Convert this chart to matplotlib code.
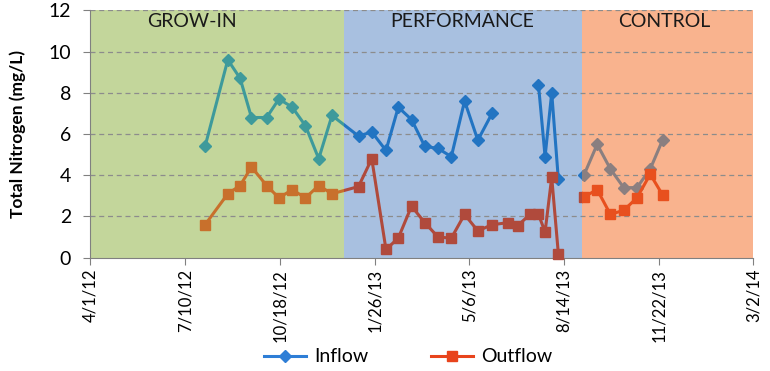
import numpy as np
import pandas as pd
import matplotlib
matplotlib.use('Agg')
import matplotlib.pyplot as plt
import matplotlib.dates as mdates
from matplotlib.lines import Line2D
from matplotlib.patches import Rectangle

plt.rcParams['font.family'] = ['Lato', 'DejaVu Sans']

# sampling dates and total nitrogen (mg/L); nan = no sample / line break
dates = ['2012-07-31', '2012-08-24', '2012-09-06', '2012-09-18', '2012-10-04',
         '2012-10-17', '2012-10-31', '2012-11-14', '2012-11-28', '2012-12-12',
         '2013-01-09', '2013-01-23', '2013-02-07', '2013-02-20', '2013-03-06',
         '2013-03-20', '2013-04-03', '2013-04-17', '2013-05-01', '2013-05-15',
         '2013-05-30', '2013-06-16', '2013-06-26', '2013-07-09', '2013-07-18',
         '2013-07-25', '2013-08-01', '2013-08-08', '2013-08-21', '2013-09-04',
         '2013-09-18', '2013-10-02', '2013-10-16', '2013-10-30', '2013-11-13',
         '2013-11-26']
nan = np.nan
inflow = [5.4, 9.6, 8.7, 6.8, 6.8, 7.7, 7.3, 6.4, 4.8, 6.9,
          5.9, 6.1, 5.2, 7.3, 6.7, 5.4, 5.3, 4.9, 7.6, 5.7,
          7.0, nan, nan, nan, 8.4, 4.9, 8.0, 3.8, nan, 4.0,
          5.5, 4.3, 3.4, 3.4, 4.3, 5.7]
outflow = [1.6, 3.1, 3.5, 4.4, 3.5, 2.9, 3.3, 2.9, 3.5, 3.1,
           3.45, 4.8, 0.4, 0.95, 2.5, 1.7, 1.0, 0.95, 2.1, 1.3,
           1.6, 1.7, 1.55, 2.1, 2.1, 1.25, 3.9, 0.2, nan, 2.95,
           3.3, 2.1, 2.3, 2.9, 4.05, 3.05]

phase_names = ['GROW-IN', 'PERFORMANCE', 'CONTROL']
phase_starts = ['2012-04-01', '2012-12-25', '2013-09-02']
phase_ends = ['2012-12-25', '2013-09-02', '2014-03-02']

tick_labels = ['4/1/12', '7/10/12', '10/18/12', '1/26/13', '5/6/13',
               '8/14/13', '11/22/13', '3/2/14']

# colours per phase (background, inflow line, outflow line)
phase_bg = ['#C3D69B', '#A8C0E0', '#F9B38E']
inflow_cols = ['#3E9A9B', '#2274C2', '#8A7F80']
outflow_cols = ['#C8702C', '#B04A3C', '#E8501E']
label_x = [0.153, 0.56, 0.866]

x = pd.to_datetime(dates)
ticks = pd.to_datetime(tick_labels, format='%m/%d/%y')

fig = plt.figure(figsize=(7.7, 3.71), dpi=100)
ax = fig.add_axes([0.1175, 0.3054, 0.861, 0.6668])

for i, name in enumerate(phase_names):
    s, e = pd.Timestamp(phase_starts[i]), pd.Timestamp(phase_ends[i])
    ax.axvspan(s, e, color=phase_bg[i], zorder=0, lw=0)
    x0, x1 = mdates.date2num(s), mdates.date2num(e)
    # same series drawn once per phase, each copy clipped to its phase band
    l1, = ax.plot(x, inflow, color=inflow_cols[i], lw=2.2, marker='D', ms=6.5, zorder=3)
    l2, = ax.plot(x, outflow, color=outflow_cols[i], lw=2.2, marker='s', ms=7, zorder=3)
    for ln in (l1, l2):
        ln.set_clip_path(Rectangle((x0, -0.1), x1 - x0, 1.2,
                                   transform=ax.get_xaxis_transform()))
    ax.text(label_x[i], 0.953, name, transform=ax.transAxes, ha='center',
            va='center', fontsize=14, color='#1a1a1a', zorder=4)

ax.set_ylim(0, 12)
ax.set_yticks(np.arange(0, 13, 2))
for yv in np.arange(2, 13, 2):
    ax.axhline(yv, color='#8c8c8c', lw=0.9, ls=(0, (4, 3)), zorder=1)

ax.set_xlim(ticks[0], ticks[-1])
ax.set_xticks(ticks)
ax.set_xticklabels(tick_labels, rotation=90, fontsize=12)
ax.tick_params(axis='y', labelsize=14, length=5, color='#808080', pad=9)
ax.tick_params(axis='x', length=5, color='#808080', pad=3)

for sp in ['top', 'right']:
    ax.spines[sp].set_visible(False)
for sp in ['left', 'bottom']:
    ax.spines[sp].set_color('#808080')
    ax.spines[sp].set_zorder(2)

ax.set_ylabel('Total Nitrogen (mg/L)', fontsize=12.5, fontweight='bold', labelpad=16)

handles = [Line2D([], [], color='#2E7ED6', lw=2.2, marker='D', ms=6.5),
           Line2D([], [], color='#E8441C', lw=2.2, marker='s', ms=7)]
fig.legend(handles, ['Inflow', 'Outflow'], loc='center', bbox_to_anchor=(0.53, 0.038),
           ncol=2, frameon=False, fontsize=14, handlelength=2.2, columnspacing=3.2,
           handletextpad=0.4)

fig.savefig('out.png', dpi=100)
